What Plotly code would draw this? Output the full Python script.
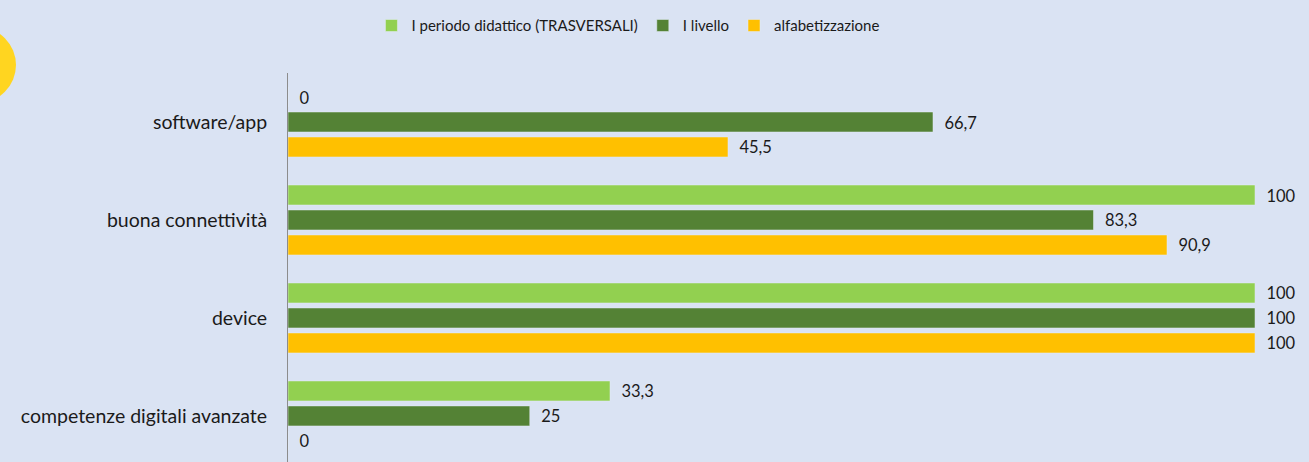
import plotly.graph_objects as go

categories = ["software/app", "buona connettività", "device", "competenze digitali avanzate"]
series_names = ["I periodo didattico (TRASVERSALI)", "I livello", "alfabetizzazione"]
periodo = [0, 100, 100, 33.3]
livello = [66.7, 83.3, 100, 25]
alfabetizzazione = [45.5, 90.9, 100, 0]
colors = ["#92D050", "#548235", "#FFC000"]

fig = go.Figure()
for name, vals, col in zip(series_names, [periodo, livello, alfabetizzazione], colors):
    fig.add_trace(go.Bar(
        y=categories, x=vals, name=name, orientation="h",
        marker=dict(color=col),
        texttemplate="\u00a0\u00a0%{x}", textposition="outside",
        textfont=dict(size=19, color="#1a1a1a"),
        cliponaxis=False,
    ))

# yellow circle peeking in at the top-left
fig.add_shape(type="circle", xref="paper", yref="paper",
              xsizemode="pixel", ysizemode="pixel", xanchor=0, yanchor=1,
              x0=-348, x1=-272, y0=-30, y1=46,
              fillcolor="#FFD520", line=dict(width=0), layer="below")

fig.update_layout(
    width=1309, height=462,
    paper_bgcolor="#DAE3F3", plot_bgcolor="#DAE3F3",
    font=dict(family="Lato", size=19.5, color="#1a1a1a"),
    separators=",.",
    barmode="group", bargap=0.235, bargroupgap=0.2,
    margin=dict(l=288, r=54, t=73, b=0),
    showlegend=True,
    legend=dict(orientation="h", x=0.0863, xanchor="left", y=0.98, yref="container",
                yanchor="top", font=dict(size=15), traceorder="normal",
                itemwidth=30),
)
fig.update_xaxes(range=[0, 100], visible=False)
fig.update_yaxes(range=[3.47, -0.5], showline=True, linecolor="#8c8c8c", linewidth=1,
                 showgrid=False, ticks="", ticklabelstandoff=16, fixedrange=True)

fig.write_html("out.html", config={"displayModeBar": False},
               post_script="document.body.style.margin='0';")
